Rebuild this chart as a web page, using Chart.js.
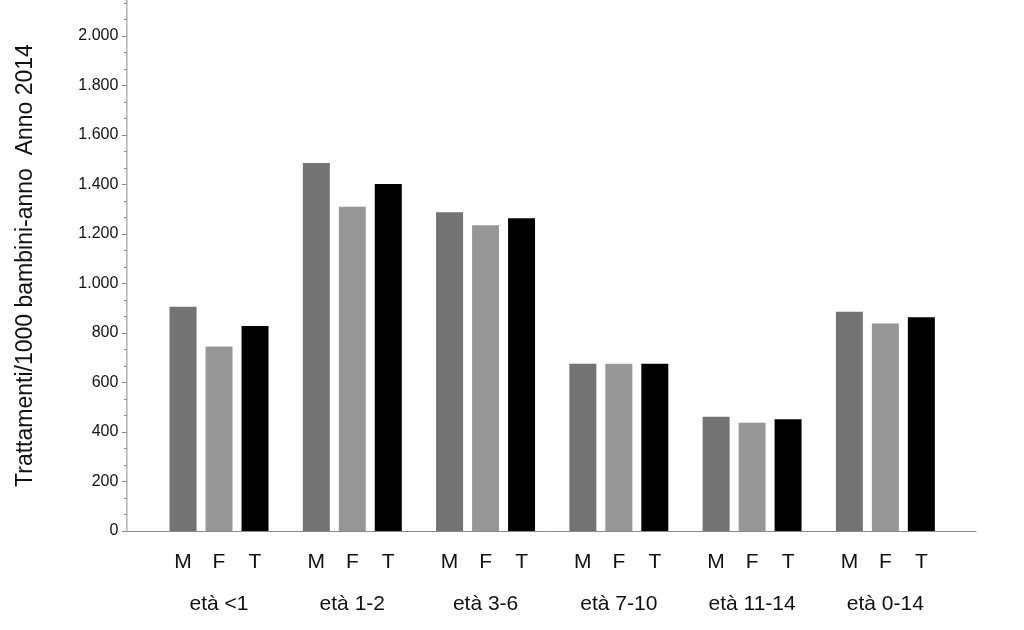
<!DOCTYPE html>
<html>
<head>
<meta charset="utf-8">
<script src="https://cdn.jsdelivr.net/npm/chart.js@4/dist/chart.umd.min.js"></script>
<style>
  html, body { margin: 0; padding: 0; background: #fff; }
  #wrap { width: 1024px; height: 630px; }
</style>
</head>
<body>
<div id="wrap"><canvas id="grafico"></canvas></div>
<script>
// dati
const categorie = ["età <1", "età 1-2", "età 3-6", "età 7-10", "età 11-14", "età 0-14"];
const sessi = ["M", "F", "T"];
const valoriM = [906, 1487, 1288, 676, 462, 886];
const valoriF = [745, 1310, 1235, 676, 437, 838];
const valoriT = [828, 1402, 1263, 676, 451, 863];
const tickValori = [0, 200, 400, 600, 800, 1000, 1200, 1400, 1600, 1800, 2000];
const tickEtichette = ["0", "200", "400", "600", "800", "1.000", "1.200", "1.400", "1.600", "1.800", "2.000"];

const colori = ["#737373", "#979797", "#000000"];
const font = "'Liberation Sans', Arial, sans-serif";

// assi disegnati a mano: l'asse y sta 25px a sinistra dell'area dati
const assiPlugin = {
    id: "assi",
    afterDraw(chart) {
        const ctx = chart.ctx;
        const y = chart.scales.y;
        const area = chart.chartArea;
        const xAsse = area.left - 25.5;
        const yBase = Math.round(y.getPixelForValue(0)) + 0.5;
        ctx.save();
        ctx.strokeStyle = "#8a8a8a";
        ctx.lineWidth = 1;
        ctx.beginPath();
        ctx.moveTo(xAsse, 0);
        ctx.lineTo(xAsse, yBase);
        ctx.lineTo(area.right + 24.5, yBase);
        ctx.stroke();
        // tacche maggiori e minori
        for (let v = 0; v <= y.max; v += 200 / 3) {
            const py = Math.round(y.getPixelForValue(v)) + 0.5;
            const maggiore = Math.abs(v / 200 - Math.round(v / 200)) < 0.01;
            ctx.beginPath();
            ctx.moveTo(xAsse - (maggiore ? 5 : 3), py);
            ctx.lineTo(xAsse, py);
            ctx.stroke();
        }
        // etichette M F T sotto le barre
        ctx.fillStyle = "#111";
        ctx.font = "21px " + font;
        ctx.textAlign = "center";
        ctx.textBaseline = "middle";
        chart.data.datasets.forEach((ds, i) => {
            chart.getDatasetMeta(i).data.forEach(bar => {
                ctx.fillText(sessi[i], bar.x, 562);
            });
        });
        ctx.restore();
    }
};

new Chart(document.getElementById("grafico"), {
    type: "bar",
    data: {
        labels: categorie,
        datasets: [
            { label: "M", data: valoriM, backgroundColor: colori[0] },
            { label: "F", data: valoriF, backgroundColor: colori[1] },
            { label: "T", data: valoriT, backgroundColor: colori[2] }
        ]
    },
    options: {
        responsive: true,
        maintainAspectRatio: false,
        animation: false,
        categoryPercentage: 0.81,
        barPercentage: 0.75,
        layout: { padding: { top: 0, right: 72, bottom: 0, left: 0 } },
        plugins: {
            legend: { display: false },
            tooltip: { enabled: false }
        },
        scales: {
            x: {
                grid: { display: false, drawTicks: false },
                border: { display: false },
                ticks: { color: "#111", font: { family: font, size: 21 }, padding: 61 },
                afterFit(scale) {
                    scale.height = 99;
                    scale.paddingLeft = 0;
                    scale.paddingRight = 0;
                }
            },
            y: {
                min: 0,
                max: 2145,
                grid: { display: false, drawTicks: false },
                border: { display: false },
                afterBuildTicks(scale) {
                    scale.ticks = tickValori.map(v => ({ value: v }));
                },
                ticks: {
                    color: "#111",
                    font: { family: font, size: 16 },
                    padding: 34,
                    callback: (v) => tickEtichette[tickValori.indexOf(v)]
                },
                title: {
                    display: true,
                    text: "Trattamenti/1000 bambini-anno  Anno 2014",
                    color: "#111",
                    font: { family: font, size: 23 },
                    padding: { top: 12, bottom: 0 }
                },
                afterFit(scale) {
                    scale.width = 152.4;
                    scale.paddingTop = 0;
                    scale.paddingBottom = 0;
                }
            }
        }
    },
    plugins: [assiPlugin]
});
</script>
</body>
</html>
